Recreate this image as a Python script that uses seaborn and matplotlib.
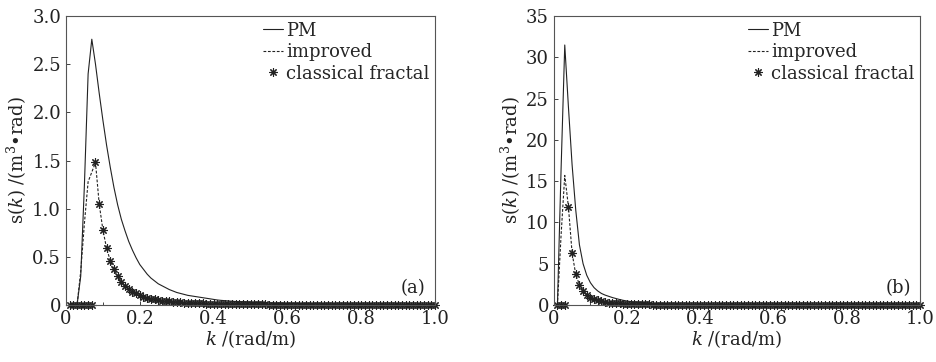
import numpy as np
import pandas as pd
import matplotlib
matplotlib.use('Agg')
import matplotlib.pyplot as plt
import seaborn as sns
from matplotlib.ticker import MultipleLocator

# wavenumber grid (0.01 ... 1.00)
k = np.round(np.arange(1, 101) * 0.01, 2)

# panel (a)
pm_a = [0, 0, 0, 0.30, 1.25, 2.40, 2.76, 2.50, 2.20, 1.92,
        1.66, 1.43, 1.22, 1.04, 0.89, 0.77, 0.66, 0.57, 0.49, 0.42,
        0.37, 0.32, 0.28, 0.25, 0.22, 0.20, 0.18, 0.16, 0.145, 0.13,
        0.12, 0.11, 0.10, 0.094, 0.088, 0.082, 0.076, 0.07, 0.064, 0.058,
        0.052, 0.048, 0.045, 0.042, 0.039, 0.036, 0.034, 0.032, 0.030, 0.028,
        0.026, 0.025, 0.023, 0.022, 0.021, 0.020, 0.019, 0.018, 0.017, 0.016,
        0.015, 0.015, 0.014, 0.013, 0.013, 0.012, 0.012, 0.011, 0.011, 0.010,
        0.010, 0.009, 0.009, 0.009, 0.008, 0.008, 0.008, 0.007, 0.007, 0.007,
        0.007, 0.006, 0.006, 0.006, 0.006, 0.006, 0.005, 0.005, 0.005, 0.005,
        0.005, 0.005, 0.004, 0.004, 0.004, 0.004, 0.004, 0.004, 0.004, 0.004]
cf_a = [0, 0, 0, 0, 0, 0, 0, 1.48, 1.05, 0.78,
        0.59, 0.46, 0.37, 0.30, 0.24, 0.20, 0.165, 0.14, 0.12, 0.10,
        0.088, 0.077, 0.067, 0.059, 0.052, 0.046, 0.041, 0.037, 0.033, 0.030,
        0.027, 0.025, 0.022, 0.020, 0.019, 0.017, 0.016, 0.015, 0.013, 0.012,
        0.012, 0.011, 0.010, 0.010, 0.009, 0.009, 0.008, 0.008, 0.007, 0.007,
        0.007, 0.006, 0.006, 0.006, 0.005, 0.005, 0.005, 0.005, 0.004, 0.004,
        0.004, 0.004, 0.004, 0.003, 0.003, 0.003, 0.003, 0.003, 0.003, 0.003,
        0.003, 0.002, 0.002, 0.002, 0.002, 0.002, 0.002, 0.002, 0.002, 0.002,
        0.002, 0.002, 0.002, 0.002, 0.002, 0.002, 0.002, 0.002, 0.002, 0.002,
        0.002, 0.002, 0.001, 0.001, 0.001, 0.001, 0.001, 0.001, 0.001, 0.001]
imp_a = [0, 0, 0, 0.35, 0.85, 1.28, 1.38] + cf_a[7:]

# panel (b)
pm_b = [0, 16.5, 31.5, 24.0, 17.0, 11.5, 7.3, 5.0, 3.6, 2.7,
        2.1, 1.7, 1.4, 1.2, 1.05, 0.90, 0.78, 0.66, 0.56, 0.48,
        0.41, 0.36, 0.31, 0.27, 0.24, 0.21, 0.19, 0.17, 0.155, 0.14,
        0.125, 0.115, 0.105, 0.095, 0.087, 0.08, 0.074, 0.068, 0.063, 0.058,
        0.054, 0.05, 0.046, 0.043, 0.04, 0.037, 0.035, 0.033, 0.031, 0.029,
        0.027, 0.026, 0.024, 0.023, 0.022, 0.021, 0.02, 0.019, 0.018, 0.017,
        0.016, 0.015, 0.015, 0.014, 0.013, 0.013, 0.012, 0.012, 0.011, 0.011,
        0.01, 0.01, 0.01, 0.009, 0.009, 0.009, 0.008, 0.008, 0.008, 0.007,
        0.007, 0.007, 0.007, 0.006, 0.006, 0.006, 0.006, 0.006, 0.005, 0.005,
        0.005, 0.005, 0.005, 0.005, 0.005, 0.004, 0.004, 0.004, 0.004, 0.004]
cf_b = [0, 0, 0, 11.9, 6.3, 3.7, 2.45, 1.65, 1.2, 0.9,
        0.7, 0.55, 0.45, 0.37, 0.3, 0.25, 0.21, 0.18, 0.15, 0.13,
        0.11, 0.1, 0.09, 0.08, 0.07, 0.063, 0.057, 0.052, 0.047, 0.043,
        0.039, 0.036, 0.033, 0.03, 0.028, 0.026, 0.024, 0.022, 0.021, 0.019,
        0.018, 0.017, 0.016, 0.015, 0.014, 0.013, 0.013, 0.012, 0.011, 0.011,
        0.01, 0.01, 0.009, 0.009, 0.009, 0.008, 0.008, 0.008, 0.007, 0.007,
        0.007, 0.006, 0.006, 0.006, 0.006, 0.005, 0.005, 0.005, 0.005, 0.005,
        0.005, 0.004, 0.004, 0.004, 0.004, 0.004, 0.004, 0.004, 0.003, 0.003,
        0.003, 0.003, 0.003, 0.003, 0.003, 0.003, 0.003, 0.003, 0.003, 0.003,
        0.003, 0.003, 0.003, 0.003, 0.002, 0.002, 0.002, 0.002, 0.002, 0.002]
imp_b = [0, 8.5, 15.7] + cf_b[3:]

panels = [
    dict(pm=pm_a, imp=imp_a, cf=cf_a, ymax=3.0, ystep=0.5, tag='(a)',
         ylabels=['0', '0.5', '1.0', '1.5', '2.0', '2.5', '3.0']),
    dict(pm=pm_b, imp=imp_b, cf=cf_b, ymax=35, ystep=5, tag='(b)',
         ylabels=['0', '5', '10', '15', '20', '25', '30', '35']),
]

sns.set_style('ticks')
plt.rcParams['font.family'] = ['DejaVu Serif']
plt.rcParams['mathtext.fontset'] = 'dejavuserif'
plt.rcParams['xtick.direction'] = 'in'
plt.rcParams['ytick.direction'] = 'in'

fig = plt.figure(figsize=(9.37, 3.62), dpi=100)
fig.patch.set_facecolor('white')
rects = [[0.0704, 0.1575, 0.394, 0.798], [0.591, 0.1575, 0.391, 0.798]]

ink = '#222222'
for rect, p in zip(rects, panels):
    ax = fig.add_axes(rect)
    df = pd.DataFrame({'k': k, 'PM': p['pm'], 'improved': p['imp'], 'classical fractal': p['cf']})
    sns.lineplot(data=df, x='k', y='PM', ax=ax, color=ink, lw=0.8,
                 estimator=None, label='PM')
    sns.lineplot(data=df, x='k', y='improved', ax=ax, color=ink, lw=0.8,
                 linestyle=(0, (2.5, 1.5)), estimator=None, label='improved')
    sns.lineplot(data=df, x='k', y='classical fractal', ax=ax, color=ink,
                 linestyle='none', marker=(8, 2, 0), markersize=6,
                 markeredgewidth=0.8, markeredgecolor=ink, markerfacecolor=ink,
                 estimator=None, clip_on=False, label='classical fractal')

    ax.set_xlim(0, 1.0)
    ax.set_ylim(0, p['ymax'])
    ax.xaxis.set_major_locator(MultipleLocator(0.2))
    ax.xaxis.set_minor_locator(MultipleLocator(0.1))
    ax.set_xticks([0, 0.2, 0.4, 0.6, 0.8, 1.0])
    ax.set_xticklabels(['0', '0.2', '0.4', '0.6', '0.8', '1.0'])
    ax.set_yticks(np.arange(len(p['ylabels'])) * p['ystep'])
    ax.set_yticklabels(p['ylabels'])
    ax.tick_params(labelsize=13, length=3, width=0.6, colors=ink)
    ax.tick_params(which='minor', length=2, width=0.6)
    for s in ax.spines.values():
        s.set_visible(True)
        s.set_linewidth(0.8)
        s.set_color('#555555')

    ax.set_xlabel(r'$k$ /(rad/m)', fontsize=13, labelpad=0, color=ink)
    ax.set_ylabel(r's($k$) /(m$^3$•rad)', fontsize=13, labelpad=2, color=ink)
    ax.text(0.94, 0.06, p['tag'], transform=ax.transAxes, fontsize=13,
            ha='center', va='center', color=ink)
    ax.legend(loc='upper right', frameon=False, fontsize=13, handlelength=1.1,
              handletextpad=0.2, labelspacing=0.2, borderaxespad=0.1,
              borderpad=0.2, numpoints=1)

fig.savefig('out.png', dpi=100, facecolor='white')
